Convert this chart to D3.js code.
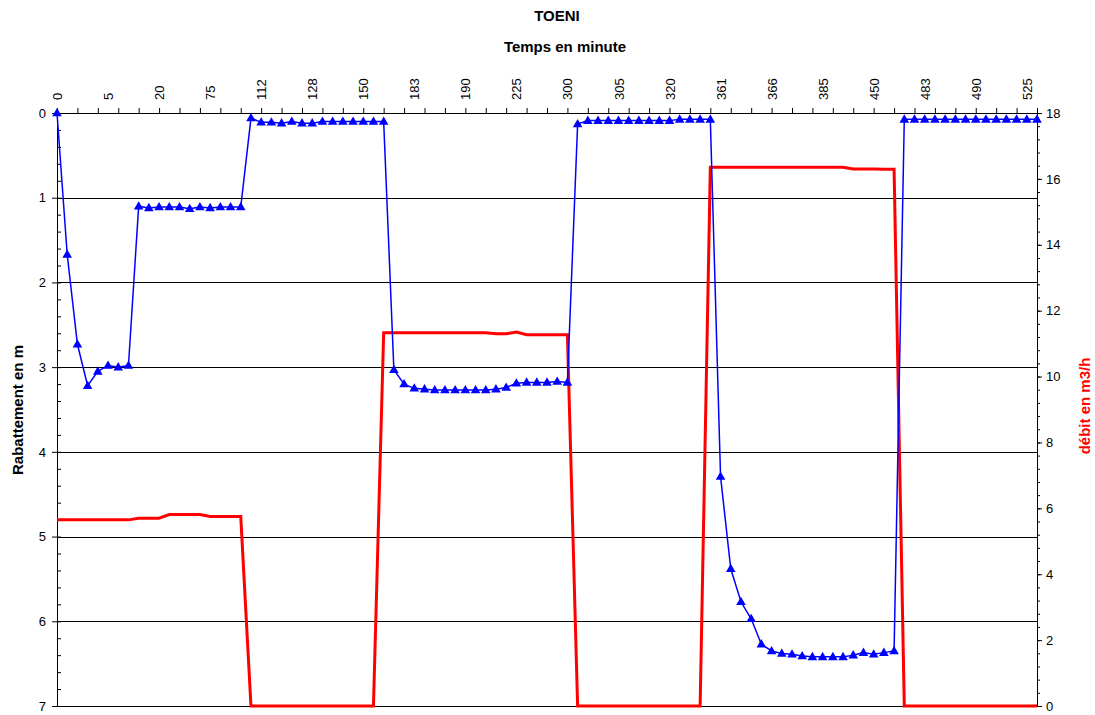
<!DOCTYPE html>
<html>
<head>
<meta charset="utf-8">
<script src="https://cdn.jsdelivr.net/npm/d3@7"></script>
<style>
  body { margin: 0; background: #fff; }
  svg { display: block; font-family: "Liberation Sans", Arial, sans-serif; }
</style>
</head>
<body>
<svg id="chart" width="1095" height="715"></svg>
<script>
// ---- Data ----
// Category labels shown on the top axis (every 5th measurement)
const tickLabels = ["0","5","20","75","112","128","150","183","190","225","300","305","320","361","366","385","450","483","490","525"];
const labelStep = 5;

// Rabattement en m (left axis), one value per measurement
const rabattement = [
  0.00, 1.67, 2.73, 3.22, 3.05, 2.98, 3.00, 2.98,
  1.10, 1.12, 1.11, 1.11, 1.11, 1.13, 1.11, 1.12, 1.11, 1.11, 1.11,
  0.06, 0.11, 0.11, 0.12, 0.10, 0.12, 0.12, 0.10, 0.10, 0.10, 0.10, 0.10, 0.10, 0.10,
  3.03, 3.20, 3.25, 3.26, 3.27, 3.27, 3.27, 3.27, 3.27, 3.27, 3.26, 3.24, 3.19, 3.18, 3.18, 3.18, 3.17, 3.18,
  0.13, 0.09, 0.09, 0.09, 0.09, 0.09, 0.09, 0.09, 0.09, 0.09, 0.075, 0.075, 0.075, 0.075,
  4.29, 5.38, 5.77, 5.97, 6.27, 6.35, 6.38, 6.39, 6.41, 6.42, 6.42, 6.42, 6.42, 6.40, 6.37, 6.39, 6.37, 6.35,
  0.075, 0.075, 0.075, 0.075, 0.075, 0.075, 0.075, 0.075, 0.075, 0.075, 0.075, 0.075, 0.075, 0.075
];

// Débit en m3/h (right axis), one value per measurement
const debit = [
  5.65, 5.65, 5.65, 5.65, 5.65, 5.65, 5.65, 5.65,
  5.70, 5.70, 5.70, 5.81, 5.81, 5.81, 5.81, 5.75, 5.75, 5.75, 5.75,
  0, 0, 0, 0, 0, 0, 0, 0, 0, 0, 0, 0, 0,
  11.33, 11.33, 11.33, 11.33, 11.33, 11.33, 11.33, 11.33, 11.33, 11.33, 11.33,
  11.30, 11.30, 11.35, 11.27, 11.27, 11.27, 11.27, 11.27,
  0, 0, 0, 0, 0, 0, 0, 0, 0, 0, 0, 0, 0,
  16.35, 16.35, 16.35, 16.35, 16.35, 16.35, 16.35, 16.35, 16.35, 16.35, 16.35, 16.35, 16.35, 16.35,
  16.30, 16.30, 16.30, 16.29, 16.29,
  0, 0, 0, 0, 0, 0, 0, 0, 0, 0, 0, 0, 0, 0
];

const leftTicks = [0, 1, 2, 3, 4, 5, 6, 7];
const rightTicks = [0, 2, 4, 6, 8, 10, 12, 14, 16, 18];

// ---- Layout ----
const svg = d3.select("#chart");
const L = 57, R = 1037, T = 113, B = 706;
const n = rabattement.length;

const x = d3.scaleLinear().domain([0, n - 1]).range([L, R]);
const yL = d3.scaleLinear().domain([0, 7]).range([T, B]);
const yR = d3.scaleLinear().domain([0, 18]).range([B, T]);

// Gridlines
svg.append("g")
  .selectAll("line")
  .data(leftTicks.filter(d => d > 0))
  .join("line")
  .attr("x1", L).attr("x2", R)
  .attr("y1", d => Math.round(yL(d)) + 0.5)
  .attr("y2", d => Math.round(yL(d)) + 0.5)
  .attr("stroke", "#000").attr("stroke-width", 1);

// Top category axis: major ticks every 2 categories
const topAxis = svg.append("g").attr("transform", `translate(0,${T})`)
  .call(d3.axisTop(x).tickValues(d3.range(0, n, 2)).tickFormat("").tickSize(5).tickSizeOuter(0));
topAxis.selectAll("line").attr("stroke", "#000");
topAxis.select(".domain").attr("stroke", "#000");

// Top labels every 5th category
const labelAxis = svg.append("g").attr("transform", `translate(0,${T})`)
  .call(d3.axisTop(x)
    .tickValues(tickLabels.map((_, i) => i * labelStep))
    .tickFormat((d, i) => tickLabels[i])
    .tickSize(0).tickPadding(0));
labelAxis.select(".domain").remove();
labelAxis.selectAll("text")
  .attr("font-size", 13)
  .attr("font-family", "Liberation Sans, Arial, sans-serif")
  .attr("fill", "#000")
  .attr("text-anchor", "start")
  .attr("transform", "translate(0,-13) rotate(-90)")
  .attr("x", 0).attr("y", 0).attr("dy", "0.35em");

// Left axis
const leftAxis = svg.append("g").attr("transform", `translate(${L},0)`)
  .call(d3.axisLeft(yL).tickValues(leftTicks).tickFormat(d3.format("d")).tickSize(5).tickSizeOuter(0).tickPadding(6));
leftAxis.selectAll("text").attr("font-size", 13).attr("fill", "#000")
  .attr("font-family", "Liberation Sans, Arial, sans-serif");
leftAxis.selectAll("line").attr("stroke", "#000");
leftAxis.select(".domain").attr("stroke", "#000");
svg.append("g").attr("transform", `translate(${L},0)`)
  .call(d3.axisRight(yL).tickValues(d3.range(0, 7.001, 0.2)).tickFormat("").tickSize(4).tickSizeOuter(0))
  .call(g => g.select(".domain").remove())
  .selectAll("line").attr("stroke", "#000");

// Right axis
const rightAxis = svg.append("g").attr("transform", `translate(${R},0)`)
  .call(d3.axisRight(yR).tickValues(rightTicks).tickFormat(d3.format("d")).tickSize(5).tickSizeOuter(0).tickPadding(4));
rightAxis.selectAll("text").attr("font-size", 13).attr("fill", "#000")
  .attr("font-family", "Liberation Sans, Arial, sans-serif");
rightAxis.selectAll("line").attr("stroke", "#000");
rightAxis.select(".domain").attr("stroke", "#000");
svg.append("g").attr("transform", `translate(${R},0)`)
  .call(d3.axisRight(yR).tickValues(d3.range(0, 18.001, 0.4)).tickFormat("").tickSize(3).tickSizeOuter(0))
  .call(g => g.select(".domain").remove())
  .selectAll("line").attr("stroke", "#000");

// Débit line (red)
svg.append("path")
  .datum(debit)
  .attr("fill", "none")
  .attr("stroke", "#FF0000")
  .attr("stroke-width", 3)
  .attr("d", d3.line().x((d, i) => x(i)).y(d => yR(d)));

// Rabattement line (blue) with triangle markers
svg.append("path")
  .datum(rabattement)
  .attr("fill", "none")
  .attr("stroke", "#0000FF")
  .attr("stroke-width", 1.5)
  .attr("d", d3.line().x((d, i) => x(i)).y(d => yL(d)));

svg.append("g")
  .selectAll("path")
  .data(rabattement)
  .join("path")
  .attr("transform", (d, i) => `translate(${x(i)},${yL(d) + 0.5})`)
  .attr("d", d3.symbol(d3.symbolTriangle, 40))
  .attr("fill", "#0000FF");

// Titles
svg.append("text").attr("x", 557).attr("y", 21).attr("text-anchor", "middle")
  .attr("font-size", 15).attr("font-weight", "bold").text("TOENI");
svg.append("text").attr("x", 565).attr("y", 52).attr("text-anchor", "middle")
  .attr("font-size", 15).attr("font-weight", "bold").text("Temps en minute");
svg.append("text").attr("transform", "translate(23,410) rotate(-90)").attr("text-anchor", "middle")
  .attr("font-size", 15).attr("font-weight", "bold").text("Rabattement en m");
svg.append("text").attr("transform", "translate(1090,406) rotate(-90)").attr("text-anchor", "middle")
  .attr("font-size", 15).attr("font-weight", "bold").attr("fill", "#FF0000").text("débit en m3/h");
</script>
</body>
</html>
